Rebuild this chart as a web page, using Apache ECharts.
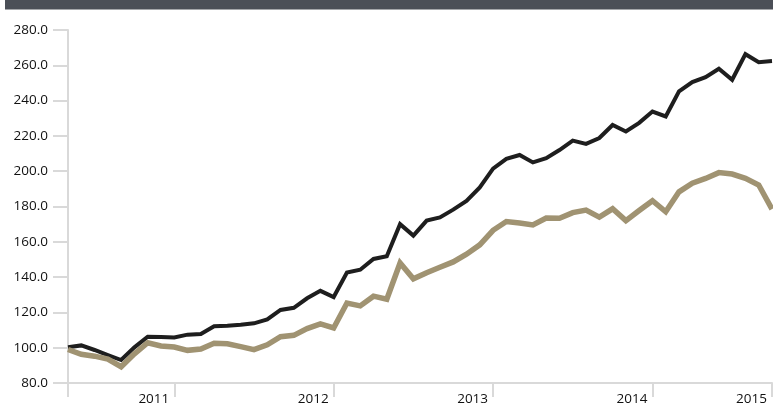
<!DOCTYPE html>
<html>
<head>
<meta charset="utf-8">
<script src="https://cdn.jsdelivr.net/npm/echarts@6/dist/echarts.min.js"></script>
<style>
html,body{margin:0;padding:0;background:#fff;}
#chart{width:773px;height:417px;}
</style>
</head>
<body>
<div id="chart"></div>
<script>
var months = [
  '2010-10','2010-11','2010-12','2011-01','2011-02','2011-03','2011-04','2011-05','2011-06',
  '2011-07','2011-08','2011-09','2011-10','2011-11','2011-12','2012-01','2012-02','2012-03','2012-04','2012-05','2012-06',
  '2012-07','2012-08','2012-09','2012-10','2012-11','2012-12','2013-01','2013-02','2013-03','2013-04','2013-05','2013-06',
  '2013-07','2013-08','2013-09','2013-10','2013-11','2013-12','2014-01','2014-02','2014-03','2014-04','2014-05','2014-06',
  '2014-07','2014-08','2014-09','2014-10','2014-11','2014-12','2015-01','2015-02','2015-03'
];

var seriesBlack = [
  100.3, 101.3, 98.7, 95.8, 93.0, 100.2, 106.2, 106.1, 105.8,
  107.4, 107.8, 112.2, 112.4, 113.0, 113.8, 116.0, 121.4, 122.6, 128.0, 132.2, 128.7,
  142.6, 144.2, 150.3, 151.8, 170.0, 163.5, 172.0, 173.8, 178.2, 183.2, 190.8, 201.5,
  207.0, 209.2, 205.0, 207.4, 212.0, 217.3, 215.5, 218.8, 226.2, 222.5, 227.4, 233.8,
  231.0, 245.2, 250.5, 253.3, 258.0, 251.8, 266.3, 261.8, 262.4
];

var seriesTan = [
  99.0, 96.3, 95.2, 93.5, 89.2, 96.5, 102.8, 101.0, 100.4,
  98.5, 99.3, 102.5, 102.2, 100.6, 98.9, 101.6, 106.2, 107.0, 110.8, 113.5, 111.2,
  125.3, 123.7, 129.2, 127.5, 148.0, 139.0, 142.5, 145.6, 148.6, 153.0, 158.3, 166.5,
  171.5, 170.7, 169.6, 173.5, 173.3, 176.5, 178.0, 174.0, 178.7, 172.0, 177.7, 183.3,
  177.0, 188.3, 193.2, 195.9, 199.2, 198.4, 196.0, 192.2, 178.5
];

// year ticks: category at which each period ends, and its label
var tickMonths = ['2011-06','2012-06','2013-06','2014-06','2015-03'];
var tickLabels = ['2011','2012','2013','2014','2015'];

var yMin = 80, yMax = 280, yStep = 20;

var chart = echarts.init(document.getElementById('chart'), null, {renderer: 'canvas'});
var font = '"Open Sans", "Noto Sans", sans-serif';

chart.setOption({
  animation: false,
  backgroundColor: '#ffffff',
  graphic: [{
    type: 'rect',
    shape: {x: 5, y: 0, width: 768, height: 9.5},
    style: {fill: '#4b4f57'},
    silent: true
  }],
  grid: {left: 68, right: 1, top: 30, bottom: 34, containLabel: false},
  xAxis: {
    type: 'category',
    data: months,
    boundaryGap: false,
    axisLine: {show: true, lineStyle: {color: '#d9d9d9', width: 2}},
    axisTick: {
      show: true,
      length: 14,
      lineStyle: {color: '#d9d9d9', width: 2},
      interval: function (i, v) { return i === 0 || tickMonths.indexOf(v) >= 0; }
    },
    axisLabel: {
      show: true,
      interval: function (i, v) { return tickMonths.indexOf(v) >= 0; },
      formatter: function (v) {
        var k = tickMonths.indexOf(v);
        return k >= 0 ? tickLabels[k] : '';
      },
      align: 'right',
      padding: [0, 5, 0, 0],
      margin: 9,
      color: '#111111',
      fontSize: 13.5,
      fontFamily: font
    },
    splitLine: {show: false}
  },
  yAxis: {
    type: 'value',
    min: yMin,
    max: yMax,
    interval: yStep,
    axisLine: {show: true, lineStyle: {color: '#d9d9d9', width: 2}},
    axisTick: {show: true, length: 15, lineStyle: {color: '#d9d9d9', width: 2}},
    axisLabel: {
      margin: 20,
      color: '#111111',
      fontSize: 13.5,
      fontFamily: font,
      formatter: function (v) { return v.toFixed(1); }
    },
    splitLine: {show: false}
  },
  series: [
    {
      name: 'Black',
      type: 'line',
      data: seriesBlack,
      symbol: 'none',
      lineStyle: {color: '#1e1e1e', width: 4, join: 'miter'},
      z: 2
    },
    {
      name: 'Tan',
      type: 'line',
      data: seriesTan,
      symbol: 'none',
      lineStyle: {color: '#a09372', width: 5.5, join: 'miter'},
      z: 3
    }
  ]
});
</script>
</body>
</html>
